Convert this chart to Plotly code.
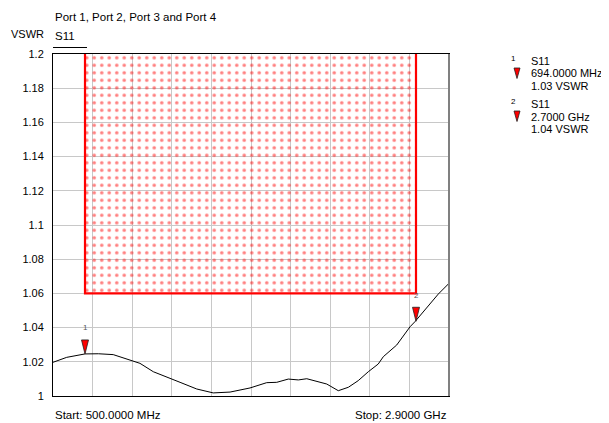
import plotly.graph_objects as go

# ---- data ----
freq_mhz = [500, 583, 694, 775, 865, 947, 1027, 1108, 1189, 1270, 1371, 1471, 1573,
            1694, 1795, 1856, 1926, 1987, 2038, 2118, 2159, 2229, 2290, 2350, 2411,
            2471, 2502, 2583, 2664, 2694, 2765, 2835, 2896, 2900]
vswr = [1.0197, 1.0226, 1.0246, 1.0247, 1.0242, 1.0216, 1.0191, 1.0142, 1.0113, 1.0080,
        1.0041, 1.0018, 1.0023, 1.0047, 1.0078, 1.0080, 1.0099, 1.0094, 1.0101, 1.0080,
        1.0070, 1.0031, 1.0051, 1.0090, 1.0142, 1.0187, 1.0230, 1.0298, 1.0405, 1.0435,
        1.0519, 1.0596, 1.0655, 1.0660]

mask_freq = [694, 2700]
mask_vswr = [1.06, 1.2]

marker_ids = ["1", "2"]
marker_freq = [694, 2700]
marker_vswr = [1.0246, 1.0437]
marker_freq_text = ["694.0000 MHz", "2.7000 GHz"]
marker_vswr_text = ["1.03 VSWR", "1.04 VSWR"]

y_ticks = [1.0, 1.02, 1.04, 1.06, 1.08, 1.1, 1.12, 1.14, 1.16, 1.18, 1.2]
y_tick_text = ["1", "1.02", "1.04", "1.06", "1.08", "1.1", "1.12", "1.14", "1.16", "1.18", "1.2"]
x_start, x_stop = 500, 2900
x_grid = [x_start + i * (x_stop - x_start) / 10 for i in range(11)]

FONT = "Liberation Sans, Arial, sans-serif"
OFF = 8  # page body margin
PAGE_W, PAGE_H = 609, 423
W, H = PAGE_W - OFF, PAGE_H - OFF
# plot area in page pixels
PX0, PX1, PY0, PY1 = 53, 449, 54, 396
L, R, T, B = PX0 - OFF, W - (PX1 - OFF), PY0 - OFF, H - (PY1 - OFF)
pw, ph = PX1 - PX0, PY1 - PY0


def px(x):
    return (x - PX0) / pw


def py(y):
    return (PY1 - y) / ph


fig = go.Figure()

# mask fill (dotted pattern)
fig.add_trace(go.Scatter(
    x=[mask_freq[0], mask_freq[0], mask_freq[1], mask_freq[1], mask_freq[0]],
    y=[mask_vswr[1], mask_vswr[0], mask_vswr[0], mask_vswr[1], mask_vswr[1]],
    mode="lines", line=dict(width=0, color="rgba(0,0,0,0)"),
    fill="toself", fillcolor="rgba(0,0,0,0)",
    fillpattern=dict(shape=".", fgcolor="#ff0000", bgcolor="rgba(0,0,0,0)",
                     size=7.5, solidity=0.17),
    hoverinfo="skip", showlegend=False))

# mask outline (left, bottom, right)
fig.add_trace(go.Scatter(
    x=[mask_freq[0], mask_freq[0], mask_freq[1], mask_freq[1]],
    y=[mask_vswr[1], mask_vswr[0], mask_vswr[0], mask_vswr[1]],
    mode="lines", line=dict(color="#ff0000", width=2.2),
    hoverinfo="skip", showlegend=False))

# S11 trace
fig.add_trace(go.Scatter(x=freq_mhz, y=vswr, mode="lines",
                         line=dict(color="black", width=1), showlegend=False))

shapes = []
annotations = []

# markers on the trace
for mid, f, v in zip(marker_ids, marker_freq, marker_vswr):
    shapes.append(dict(type="path", xref="x", yref="y", xsizemode="pixel",
                       ysizemode="pixel", xanchor=f, yanchor=v,
                       path="M-3.5,14 L3.5,14 L0,0 Z",
                       fillcolor="#ff0000", line=dict(color="#202020", width=0.8)))
    annotations.append(dict(x=f, y=v, xref="x", yref="y", text=mid, showarrow=False,
                            yshift=26, font=dict(family=FONT, size=8, color="#555555")))

# right frame edge (gray)
shapes.append(dict(type="line", xref="paper", yref="paper", x0=1, x1=1, y0=0, y1=1,
                   line=dict(color="#808080", width=2)))
# line under S11 label
shapes.append(dict(type="line", xref="paper", yref="paper", x0=px(53), x1=px(87),
                   y0=py(47.5), y1=py(47.5), line=dict(color="black", width=1)))

# legend on the right
legend_tops = [61, 104]
for i, (mid, ft, vt) in enumerate(zip(marker_ids, marker_freq_text, marker_vswr_text)):
    y0 = legend_tops[i]
    annotations.append(dict(x=px(513.5), y=py(y0 - 3), xref="paper", yref="paper",
                            text=mid, showarrow=False, xanchor="center", yanchor="middle",
                            font=dict(family=FONT, size=8, color="black")))
    for k, t in enumerate(["S11", ft, vt]):
        annotations.append(dict(x=px(529), y=py(y0 + 12.5 * k), xref="paper", yref="paper",
                                text=t, showarrow=False, xanchor="left", yanchor="middle",
                                font=dict(family=FONT, size=11, color="black")))
    shapes.append(dict(type="path", xref="paper", yref="paper", xsizemode="pixel",
                       ysizemode="pixel", xanchor=px(517), yanchor=py(y0 + 12.5 + 5),
                       path="M-3,10.5 L3,10.5 L0,0 Z",
                       fillcolor="#ff0000", line=dict(color="#202020", width=0.8)))

# texts around the chart
annotations += [
    dict(x=px(53), y=py(16.7), xref="paper", yref="paper", text="Port 1, Port 2, Port 3 and Port 4",
         showarrow=False, xanchor="left", yanchor="middle", font=dict(family=FONT, size=11.5)),
    dict(x=px(9), y=py(33.5), xref="paper", yref="paper", text="VSWR",
         showarrow=False, xanchor="left", yanchor="middle", font=dict(family=FONT, size=11)),
    dict(x=px(53), y=py(36), xref="paper", yref="paper", text="S11",
         showarrow=False, xanchor="left", yanchor="middle", font=dict(family=FONT, size=11.5)),
    dict(x=px(53), y=py(414.5), xref="paper", yref="paper", text="Start: 500.0000 MHz",
         showarrow=False, xanchor="left", yanchor="middle", font=dict(family=FONT, size=11.5)),
    dict(x=px(449), y=py(414.5), xref="paper", yref="paper", text="Stop: 2.9000 GHz",
         showarrow=False, xanchor="right", yanchor="middle", font=dict(family=FONT, size=11.5)),
]

fig.update_layout(
    width=W, height=H, margin=dict(l=L, r=R, t=T, b=B),
    paper_bgcolor="white", plot_bgcolor="white",
    font=dict(family=FONT, size=11, color="black"),
    shapes=shapes, annotations=annotations, showlegend=False,
    xaxis=dict(range=[x_start, x_stop], tickvals=x_grid, showticklabels=False,
               showgrid=True, gridcolor="#c8c8c8", gridwidth=1, zeroline=False,
               showline=True, linecolor="black", linewidth=1, mirror=True, ticks=""),
    yaxis=dict(range=[1.0, 1.2], tickvals=y_ticks, ticktext=y_tick_text,
               showgrid=True, gridcolor="#c8c8c8", gridwidth=1, zeroline=False,
               showline=True, linecolor="black", linewidth=1, mirror=True, ticks="",
               ticklabelstandoff=6, tickfont=dict(family=FONT, size=11)),
)

fig.write_html("out.html")
